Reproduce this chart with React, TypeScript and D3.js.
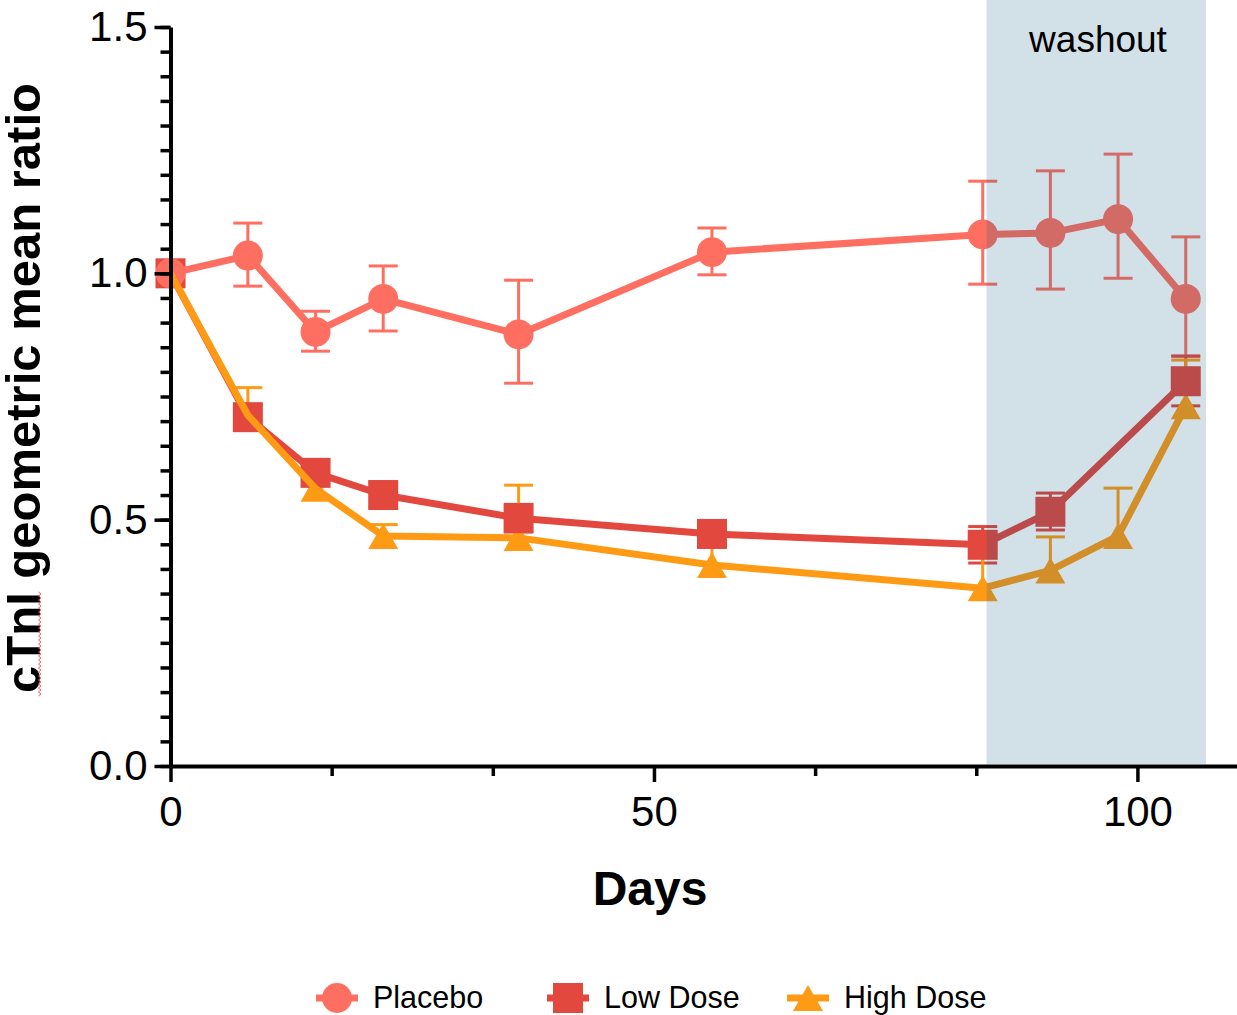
import * as d3 from "d3";
import { useEffect, useRef } from "react";

// Day of each visit
const days = [0, 8, 15, 22, 36, 56, 84, 91, 98, 105];
const lowDays = [0, 8, 15, 22, 36, 56, 84, 91, 105];

// Placebo: geometric mean ratio with error limits
const placeboMean = [1.0, 1.036, 0.881, 0.948, 0.876, 1.043, 1.079, 1.082, 1.11, 0.948];
const placeboLower = [1.0, 0.974, 0.842, 0.883, 0.777, 0.997, 0.978, 0.968, 0.99, 0.832];
const placeboUpper = [1.0, 1.102, 0.923, 1.015, 0.986, 1.092, 1.187, 1.208, 1.242, 1.074];

// Low dose (no visit at day 98)
const lowMean = [1.0, 0.708, 0.595, 0.55, 0.503, 0.471, 0.449, 0.516, 0.781];
const lowLower = [1.0, 0.683, 0.57, 0.525, 0.475, 0.447, 0.412, 0.479, 0.731];
const lowUpper = [1.0, 0.733, 0.62, 0.575, 0.531, 0.495, 0.486, 0.554, 0.832];

// High dose (upper error only)
const highMean = [1.0, 0.712, 0.563, 0.467, 0.463, 0.408, 0.361, 0.397, 0.467, 0.73];
const highUpper = [1.0, 0.768, 0.59, 0.49, 0.57, 0.45, 0.44, 0.465, 0.564, 0.824];

const seriesNames = ["Placebo", "Low Dose", "High Dose"];
const seriesColors = ["#ff6f61", "#e2483e", "#ff9a14"];
const seriesShapes = ["circle", "square", "triangle"];

const washout = [84.4, 107.1];
const xMajorTicks = [0, 50, 100];
const xMinorTicks = [50 / 3, 100 / 3, 200 / 3, 250 / 3];
const yMajorTicks = [0, 0.5, 1.0, 1.5];

const FONT = "'Liberation Sans', Arial, Helvetica, sans-serif";

type Pt = { x: number; y: number; lo: number; hi: number };

export default function App() {
  const svgRef = useRef<SVGSVGElement>(null);

  useEffect(() => {
    if (!svgRef.current) return;
    const svg = d3.select(svgRef.current);
    svg.selectAll("*").remove();

    const x = d3.scaleLinear().domain([0, 110.3]).range([170.5, 1237]);
    const y = d3.scaleLinear().domain([0, 1.5]).range([766, 27]);

    const series: { name: string; color: string; shape: string; pts: Pt[] }[] = [
      {
        name: seriesNames[0],
        color: seriesColors[0],
        shape: seriesShapes[0],
        pts: days.map((d, i) => ({ x: d, y: placeboMean[i], lo: placeboLower[i], hi: placeboUpper[i] })),
      },
      {
        name: seriesNames[1],
        color: seriesColors[1],
        shape: seriesShapes[1],
        pts: lowDays.map((d, i) => ({ x: d, y: lowMean[i], lo: lowLower[i], hi: lowUpper[i] })),
      },
      {
        name: seriesNames[2],
        color: seriesColors[2],
        shape: seriesShapes[2],
        pts: days.map((d, i) => ({ x: d, y: highMean[i], lo: highMean[i], hi: highUpper[i] })),
      },
    ];

    const marker = (g: d3.Selection<SVGGElement, unknown, null, undefined>, shape: string, cx: number, cy: number, color: string) => {
      if (shape === "circle") {
        g.append("circle").attr("cx", cx).attr("cy", cy).attr("r", 15).attr("fill", color);
      } else if (shape === "square") {
        g.append("rect").attr("x", cx - 15).attr("y", cy - 15).attr("width", 30).attr("height", 30).attr("fill", color);
      } else {
        g.append("path")
          .attr("d", `M${cx},${cy - 13}L${cx + 15},${cy + 13}L${cx - 15},${cy + 13}Z`)
          .attr("fill", color);
      }
    };

    const plot = svg.append("g");

    // error bars
    series.forEach((s) => {
      const g = plot.append("g");
      s.pts
        .filter((p) => p.hi - p.lo > 0.0001)
        .forEach((p) => {
          const cx = x(p.x);
          g.append("line").attr("x1", cx).attr("x2", cx).attr("y1", y(p.lo)).attr("y2", y(p.hi))
            .attr("stroke", s.color).attr("stroke-width", 3);
          [p.lo, p.hi].forEach((v) => {
            if (Math.abs(v - p.y) < 0.0001) return;
            g.append("line").attr("x1", cx - 14.5).attr("x2", cx + 14.5).attr("y1", y(v)).attr("y2", y(v))
              .attr("stroke", s.color).attr("stroke-width", 3);
          });
        });
    });

    // markers (high, low, placebo)
    [2, 1, 0].forEach((k) => {
      const s = series[k];
      const g = plot.append("g");
      s.pts.forEach((p) => marker(g, s.shape, x(p.x), y(p.y), s.color));
    });

    // lines on top
    const line = d3.line<Pt>().x((d) => x(d.x)).y((d) => y(d.y));
    [1, 0, 2].forEach((k) => {
      const s = series[k];
      plot.append("path")
        .attr("d", line(s.pts))
        .attr("fill", "none")
        .attr("stroke", s.color)
        .attr("stroke-width", 7)
        .attr("stroke-linecap", "round")
        .attr("stroke-linejoin", "round");
    });

    // washout shading over the data
    svg.append("rect")
      .attr("x", x(washout[0]))
      .attr("y", 0)
      .attr("width", x(washout[1]) - x(washout[0]))
      .attr("height", y(0) - 2)
      .attr("fill", "rgb(18,90,126)")
      .attr("fill-opacity", 0.19);

    svg.append("text")
      .attr("x", 1098)
      .attr("y", 52)
      .attr("text-anchor", "middle")
      .attr("font-family", FONT)
      .attr("font-size", 37)
      .attr("fill", "#000")
      .text("washout");

    // axes
    const styleAxis = (g: d3.Selection<SVGGElement, unknown, null, undefined>) => {
      g.selectAll(".domain").attr("stroke", "#000").attr("stroke-width", 4);
      g.selectAll(".tick line").attr("stroke", "#000").attr("stroke-width", 3.5);
      g.selectAll(".tick text").attr("fill", "#000").attr("font-family", FONT).attr("font-size", 42);
    };

    const yMinor = svg.append("g").attr("transform", `translate(${x(0)},0)`)
      .call(d3.axisLeft(y).tickValues(d3.range(0, 1.5001, 0.05)).tickSize(10).tickFormat(() => ""));
    yMinor.select(".domain").remove();
    styleAxis(yMinor);

    const xMinor = svg.append("g").attr("transform", `translate(0,${y(0)})`)
      .call(d3.axisBottom(x).tickValues(xMinorTicks).tickSize(10).tickFormat(() => ""));
    xMinor.select(".domain").remove();
    styleAxis(xMinor);

    const yAxis = svg.append("g").attr("transform", `translate(${x(0)},0)`)
      .call(d3.axisLeft(y).tickValues(yMajorTicks).tickSize(16).tickSizeOuter(0).tickPadding(7)
        .tickFormat((d) => d3.format(".1f")(d as number)));
    styleAxis(yAxis);

    const xAxis = svg.append("g").attr("transform", `translate(0,${y(0)})`)
      .call(d3.axisBottom(x).tickValues(xMajorTicks).tickSize(16).tickSizeOuter(0).tickPadding(14)
        .tickFormat((d) => String(d)));
    styleAxis(xAxis);

    // axis titles
    svg.append("text")
      .attr("x", 650)
      .attr("y", 905)
      .attr("text-anchor", "middle")
      .attr("font-family", FONT)
      .attr("font-weight", "bold")
      .attr("font-size", 48)
      .text("Days");

    svg.append("text")
      .attr("transform", "translate(40,388) rotate(-90)")
      .attr("text-anchor", "middle")
      .attr("font-family", FONT)
      .attr("font-weight", "bold")
      .attr("font-size", 49)
      .text("cTnI geometric mean ratio");

    // spell-check squiggle under "cTnI"
    const sq: [number, number][] = d3.range(592, 697, 2).map((v, i) => [i % 2 ? 41 : 38.5, v]);
    svg.append("path")
      .attr("d", d3.line()(sq))
      .attr("fill", "none")
      .attr("stroke", "#ff5a5a")
      .attr("stroke-width", 1);

    // legend
    const legendX = [337, 568, 808];
    const legendY = 998;
    series.forEach((s, i) => {
      const g = svg.append("g");
      const cx = legendX[i];
      g.append("line").attr("x1", cx - 21).attr("x2", cx + 21).attr("y1", legendY).attr("y2", legendY)
        .attr("stroke", s.color).attr("stroke-width", 7);
      marker(g, s.shape, cx, legendY, s.color);
      g.append("text")
        .attr("x", cx + 36)
        .attr("y", legendY + 10)
        .attr("font-family", FONT)
        .attr("font-size", 30.5)
        .attr("fill", "#000")
        .text(s.name);
    });
  }, []);

  return (
    <svg
      ref={svgRef}
      width={1237}
      height={1015}
      style={{ position: "absolute", left: 0, top: 0, background: "#fff" }}
    />
  );
}
